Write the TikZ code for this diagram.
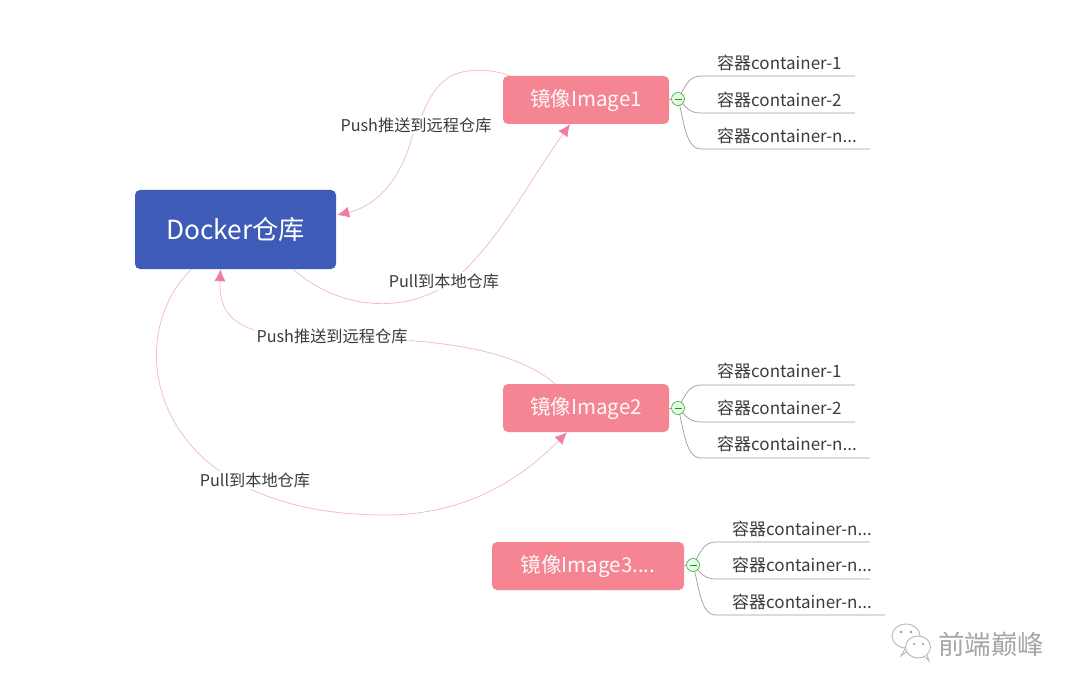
\documentclass[tikz,border=0pt]{standalone}
\usepackage{fontspec}
\setmainfont{Noto Sans CJK SC}
\usetikzlibrary{arrows.meta}
\definecolor{dockerblue}{HTML}{3E5BB8}
\definecolor{imgpink}{HTML}{F58593}
\definecolor{linkpink}{HTML}{F2B8C0}
\definecolor{tippink}{HTML}{EE7F9F}
\definecolor{leafline}{HTML}{9A9DA0}
\definecolor{leaftext}{HTML}{3C3C3E}
\tikzset{
  x=1pt,y=-1pt,
  rootbox/.style={fill=dockerblue,rounded corners=5pt,minimum width=201pt,minimum height=79pt,inner sep=0pt,text=white,font=\fontsize{26.3}{30}\selectfont},
  imgbox/.style={fill=imgpink,rounded corners=5pt,minimum height=48pt,inner sep=0pt,text=white!96!imgpink,font=\fontsize{20.5}{24}\selectfont},
  link/.style={draw=linkpink,line width=.7pt,-{Latex[length=12pt,width=11pt,color=tippink]}},
  linklabel/.style={fill=white,inner sep=1.5pt,text=leaftext,font=\fontsize{16.2}{19}\selectfont},
  leaflabel/.style={anchor=west,inner sep=0pt,text=leaftext,font=\fontsize{17}{20}\selectfont},
  leafrule/.style={draw=leafline,line width=.7pt},
  toggle/.style={circle,draw=black!20!green!45!gray,fill=green!12!white,line width=.6pt,minimum size=13pt,inner sep=0pt},
  watermark/.style={text=black!35,inner sep=0pt,font=\fontsize{26.5}{30}\selectfont},
  bubble/.style={draw=black!28,fill=white,line width=.9pt}
}
\newcommand{\leafgroup}[7]{%
  \coordinate (#1o) at (#3,#4);
  \coordinate (#1a) at (#3+23,#4-23);
  \coordinate (#1b) at (#3+23,#4+14);
  \coordinate (#1c) at (#3+23,#4+50);
  \coordinate (#1ae) at (#6,#4-23);
  \coordinate (#1be) at (#6,#4+14);
  \coordinate (#1ce) at (#7,#4+50);
  \draw[leafrule] (#1o) .. controls (#3+8,#4-14) and (#3+11,#4-23) .. (#1a) -- (#1ae);
  \draw[leafrule] (#1o) .. controls (#3+8,#4+8) and (#3+11,#4+14) .. (#1b) -- (#1be);
  \draw[leafrule] (#1o) .. controls (#3+6,#4+20) and (#3+7,#4+50) .. (#1c) -- (#1ce);
  \node[toggle] (#1t) at (#1o) {};
  \draw[leafrule] (#2.east) -- (#1t.west);
  \draw[draw=black!45!green!50!gray,line width=.6pt] ([xshift=-3.5pt]#1t.center) -- ([xshift=3.5pt]#1t.center);
}
\begin{document}
\begin{tikzpicture}
\useasboundingbox (0,0) rectangle (1080,690);
\fill[white] (0,0) rectangle (1080,690);

\node[rootbox] (docker) at (235.5,229.5) {Docker仓库};
\node[imgbox,minimum width=166pt] (im1) at (586,100) {\raisebox{-2.5pt}{镜像Image1}};
\node[imgbox,minimum width=166pt] (im2) at (586,408) {\raisebox{-2.5pt}{镜像Image2}};
\node[imgbox,minimum width=192pt] (im3) at (588,566) {\raisebox{-2.5pt}{镜像Image3....}};

% links
\draw[link] ([xshift=7pt]im1.north west) .. controls (492,69) and (470,68) .. (453,75)
   .. controls (438,82) and (428,100) .. (423,113)
   .. controls (418,125) and (416,125) .. (412,137)
   .. controls (402,175) and (380,205) .. ([xshift=1pt,yshift=14.5pt]docker.east);
\draw[link] ([xshift=-43pt]docker.south east) .. controls (345,315) and (420,315) .. (465,270)
   .. controls (505,230) and (530,180) .. ([xshift=-16pt]im1.south);
\draw[link] ([xshift=-31pt]im2.north) .. controls (510,345) and (420,338) .. (330,338)
   .. controls (250,338) and (218,325) .. ([xshift=-15pt]docker.south);
\draw[link] ([xshift=-44pt]docker.south) .. controls (118,340) and (150,515) .. (385,515)
   .. controls (470,515) and (525,475) .. ([xshift=-19pt]im2.south);

\node[linklabel] (l1) at (416,125) {Push推送到远程仓库};
\node[linklabel] (l2) at (444,281) {Pull到本地仓库};
\node[linklabel] (l3) at (332,336) {Push推送到远程仓库};
\node[linklabel] (l4) at (255,480) {Pull到本地仓库};

% leaves
\leafgroup{a}{im1}{678}{99}{717}{855}{870}
\node[leaflabel] (a1) at (717,63) {容器container-1};
\node[leaflabel] (a2) at (717,99.5) {容器container-2};
\node[leaflabel] (a3) at (717,136) {容器container-n...};
\leafgroup{b}{im2}{678}{408}{717}{855}{870}
\node[leaflabel] (b1) at (717,371) {容器container-1};
\node[leaflabel] (b2) at (717,407.5) {容器container-2};
\node[leaflabel] (b3) at (717,444) {容器container-n...};
\leafgroup{c}{im3}{693}{565}{732}{870}{885}
\node[leaflabel] (c1) at (732,529) {容器container-n...};
\node[leaflabel] (c2) at (732,565) {容器container-n...};
\node[leaflabel] (c3) at (732,601.5) {容器container-n...};

% watermark
\draw[bubble] (906,636) ellipse (14pt and 12pt);
\draw[bubble] (906,647) -- (901,656) -- (914,646);
\draw[bubble] (918,647) ellipse (12.5pt and 11pt);
\draw[bubble] (924,656) -- (929,661) -- (927,655);
\fill[black!40] (901,632) circle (1.3pt) (911,632) circle (1.3pt) (914,644) circle (1.2pt) (923,644) circle (1.2pt);
\node[watermark,anchor=west] (wm) at (938,644) {前端巅峰};
\end{tikzpicture}
\end{document}
